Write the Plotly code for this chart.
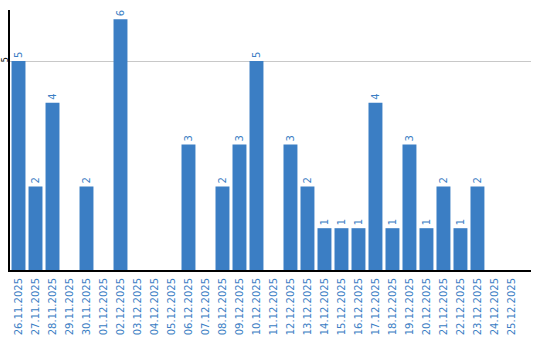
import plotly.graph_objects as go

dates = ["26.11.2025", "27.11.2025", "28.11.2025", "29.11.2025", "30.11.2025",
         "01.12.2025", "02.12.2025", "03.12.2025", "04.12.2025", "05.12.2025",
         "06.12.2025", "07.12.2025", "08.12.2025", "09.12.2025", "10.12.2025",
         "11.12.2025", "12.12.2025", "13.12.2025", "14.12.2025", "15.12.2025",
         "16.12.2025", "17.12.2025", "18.12.2025", "19.12.2025", "20.12.2025",
         "21.12.2025", "22.12.2025", "23.12.2025", "24.12.2025", "25.12.2025"]
values = [5, 2, 4, 0, 2, 0, 6, 0, 0, 0, 3, 0, 2, 3, 5, 0, 3, 2, 1, 1, 1, 4, 1, 3, 1, 2, 1, 2, 0, 0]

blue = "#3b7ec4"
labels = [str(v) if v > 0 else "" for v in values]

fig = go.Figure(go.Bar(
    x=dates, y=values, marker_color=blue, marker_line_width=0,
    text=labels, textposition="outside", textangle=-90,
    textfont=dict(color=blue, size=10, family="DejaVu Sans"),
    cliponaxis=False,
))
fig.update_layout(
    width=540, height=340, margin=dict(l=10, r=9, t=10, b=70),
    plot_bgcolor="white", paper_bgcolor="white", bargap=0.18,
    showlegend=False,
)
fig.update_xaxes(type="category", range=[-0.5, 30.15], tickangle=-90, automargin=False,
                 tickfont=dict(color=blue, size=10, family="DejaVu Sans"),
                 showline=True, linecolor="black", linewidth=2, showgrid=False,
                 ticks="", ticklen=0, ticklabelstandoff=2)
fig.update_yaxes(range=[0, 6.22], tickvals=[5], ticktext=["5"], tickangle=-90, automargin=False,
                 tickfont=dict(color="black", size=8, family="DejaVu Sans"),
                 showline=True, linecolor="black", linewidth=2, showgrid=True,
                 gridcolor="#c8c8c8", gridwidth=1, zeroline=False, ticks="", ticklen=0,
                 ticklabelstandoff=-3)
fig.write_html("out.html")
